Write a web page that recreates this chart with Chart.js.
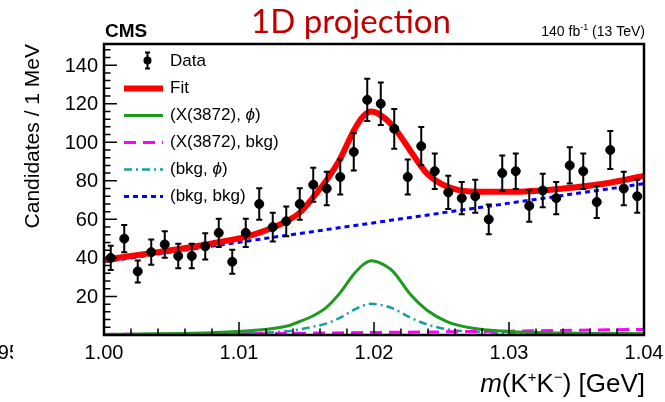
<!DOCTYPE html>
<html>
<head>
<meta charset="utf-8">
<script src="https://cdn.jsdelivr.net/npm/chart.js@4.4.0/dist/chart.umd.min.js"></script>
<style>
  body { margin: 0; background: #fff; }
</style>
</head>
<body>
<canvas id="kkChart" width="665" height="402"></canvas>
<script>
// data: 1 MeV bins of m(K+K-)
const binCenters = [1.0005, 1.0015, 1.0025, 1.0035, 1.0045, 1.0055, 1.0065, 1.0075, 1.0085, 1.0095,
                    1.0105, 1.0115, 1.0125, 1.0135, 1.0145, 1.0155, 1.0165, 1.0175, 1.0185, 1.0195,
                    1.0205, 1.0215, 1.0225, 1.0235, 1.0245, 1.0255, 1.0265, 1.0275, 1.0285, 1.0295,
                    1.0305, 1.0315, 1.0325, 1.0335, 1.0345, 1.0355, 1.0365, 1.0375, 1.0385, 1.0395];
const counts = [40, 50, 33, 43, 47, 41, 41, 46, 53, 38,
                53, 68, 56, 59, 68, 78, 76, 82, 95, 122,
                120, 107, 82, 98, 85, 74, 71, 72, 60, 84,
                85, 67, 75, 71, 88, 85, 69, 96, 76, 72];
const countErrors = [6.3, 7.1, 5.7, 6.6, 6.9, 6.4, 6.4, 6.8, 7.3, 6.2,
                     7.3, 8.2, 7.5, 7.7, 8.2, 8.8, 8.7, 9.1, 9.7, 11.0,
                     11.0, 10.3, 9.1, 9.9, 9.2, 8.6, 8.4, 8.5, 7.7, 9.2,
                     9.2, 8.2, 8.7, 8.4, 9.4, 9.2, 8.3, 9.8, 8.7, 8.5];

// fit curves
const sigX     = [1.000, 1.004, 1.008, 1.011, 1.0135, 1.0145, 1.0155, 1.0165, 1.0175, 1.0185, 1.0192,
                  1.0198, 1.0204, 1.0214, 1.0227, 1.0239, 1.0254, 1.0271, 1.030, 1.034, 1.037, 1.040];
const fitY     = [39, 43, 47.5, 52, 59, 63.5, 71.5, 80.5, 91.5, 106, 113.5,
                  116, 114.5, 108.5, 95.5, 84, 77, 74.5, 74.3, 76, 78.5, 82.5];
const xPhiY    = [0.3, 0.6, 1.2, 2.3, 4.5, 7, 10, 14.5, 22, 31.5, 36.5,
                  38.5, 37.5, 33, 21, 13, 7, 3.8, 1.8, 1.0, 0.8, 0.7];
const bkgPhiY  = [0.1, 0.2, 0.5, 1, 1.9, 2.9, 4.3, 6, 9, 13, 15.3,
                  16.2, 15.7, 13.8, 9, 5.6, 3, 1.8, 1, 0.6, 0.4, 0.3];
const xBkgX    = [1.000, 1.010, 1.020, 1.030, 1.040];
const xBkgY    = [0.3, 0.7, 1.3, 2.0, 2.9];
const bkgBkgX  = [1.000, 1.040];
const bkgBkgY  = [38, 78.5];

const xTicks = [1.00, 1.01, 1.02, 1.03, 1.04];
const yTicks = [20, 40, 60, 80, 100, 120, 140];
const legendLabels = ['Data', 'Fit', '(X(3872), ϕ)', '(X(3872), bkg)', '(bkg, ϕ)', '(bkg, bkg)'];

const FONT = '"Liberation Sans", Arial, sans-serif';

function toXY(xs, ys) {
  return xs.map((x, i) => ({ x: x, y: ys[i] }));
}

const styles = [
  null,
  { color: '#ff0000', width: 6, dash: [] },
  { color: '#1f9a1f', width: 3, dash: [] },
  { color: '#ff00ff', width: 3, dash: [12, 7] },
  { color: '#14a0a0', width: 2.5, dash: [8, 4, 2, 4] },
  { color: '#0000ff', width: 3, dash: [5, 4] }
];

function drawRich(ctx, parts, xRight, y) {
  // parts: [text, font, dy]
  let total = 0;
  parts.forEach(p => { ctx.font = p[1]; total += ctx.measureText(p[0]).width; });
  let x = xRight - total;
  parts.forEach(p => {
    ctx.font = p[1];
    ctx.fillText(p[0], x, y + (p[2] || 0));
    x += ctx.measureText(p[0]).width;
  });
}

const cmsPlugin = {
  id: 'cmsPlugin',
  beforeDraw(chart) {
    const ctx = chart.ctx;
    ctx.save();
    ctx.fillStyle = '#fff';
    ctx.fillRect(0, 0, chart.width, chart.height);
    ctx.restore();
  },
  afterDatasetsDraw(chart) {
    const ctx = chart.ctx;
    const xs = chart.scales.x, ys = chart.scales.y;
    ctx.save();
    ctx.strokeStyle = '#000';
    ctx.lineWidth = 2;
    counts.forEach((n, i) => {
      const px = xs.getPixelForValue(binCenters[i]);
      const lo = ys.getPixelForValue(n - countErrors[i]);
      const hi = ys.getPixelForValue(n + countErrors[i]);
      ctx.beginPath();
      ctx.moveTo(px, lo); ctx.lineTo(px, hi);
      ctx.moveTo(px - 3, lo); ctx.lineTo(px + 3, lo);
      ctx.moveTo(px - 3, hi); ctx.lineTo(px + 3, hi);
      ctx.stroke();
    });
    ctx.restore();
  },
  afterDraw(chart) {
    const ctx = chart.ctx;
    const ca = chart.chartArea;
    const xs = chart.scales.x, ys = chart.scales.y;
    ctx.save();

    // frame
    ctx.strokeStyle = '#000';
    ctx.lineWidth = 2.5;
    ctx.strokeRect(ca.left, ca.top, ca.right - ca.left, ca.bottom - ca.top);

    // inward ticks
    ctx.lineWidth = 1.5;
    ctx.beginPath();
    for (let v = 0; v <= 150; v += 4) {
      const py = ys.getPixelForValue(v);
      const len = v % 20 === 0 ? 13 : 6.5;
      ctx.moveTo(ca.left, py); ctx.lineTo(ca.left + len, py);
    }
    for (let k = 0; k <= 20; k++) {
      const px = xs.getPixelForValue(1.0 + k * 0.002);
      const len = k % 5 === 0 ? 13 : 6.5;
      ctx.moveTo(px, ca.bottom); ctx.lineTo(px, ca.bottom - len);
    }
    ctx.stroke();

    // tick labels
    ctx.fillStyle = '#000';
    ctx.font = '20px ' + FONT;
    ctx.textAlign = 'right';
    ctx.textBaseline = 'middle';
    yTicks.forEach(v => ctx.fillText(String(v), ca.left - 6, ys.getPixelForValue(v) + 1));
    ctx.textAlign = 'center';
    ctx.textBaseline = 'top';
    xTicks.forEach(v => ctx.fillText(v.toFixed(2), xs.getPixelForValue(v), ca.bottom + 8));

    // clipped label from the neighbouring panel
    ctx.save();
    ctx.beginPath(); ctx.rect(0, 330, 13, 40); ctx.clip();
    ctx.textAlign = 'right';
    ctx.fillText('0.95', 20, ca.bottom + 8);
    ctx.restore();

    // axis titles
    ctx.save();
    ctx.translate(33, ca.top);
    ctx.rotate(-Math.PI / 2);
    ctx.textAlign = 'right';
    ctx.textBaseline = 'middle';
    ctx.font = '21px ' + FONT;
    ctx.fillText('Candidates / 1 MeV', 0, 0);
    ctx.restore();

    ctx.textAlign = 'left';
    ctx.textBaseline = 'alphabetic';
    drawRich(ctx, [
      ['m', 'italic 26px ' + FONT],
      ['(K', '26px ' + FONT],
      ['+', '15px ' + FONT, -10],
      ['K', '26px ' + FONT],
      ['\u2212', '15px ' + FONT, -10],
      [') [GeV]', '26px ' + FONT]
    ], 645, 392);

    // header texts
    ctx.font = 'bold 19px ' + FONT;
    ctx.fillText('CMS', ca.left + 1, 37);
    drawRich(ctx, [
      ['140 fb', '14px ' + FONT],
      ['-1', '9px ' + FONT, -6],
      [' (13 TeV)', '14px ' + FONT]
    ], 645, 36);
    ctx.fillStyle = '#c00000';
    ctx.font = '33px Lato, "Open Sans", sans-serif';
    ctx.textAlign = 'center';
    ctx.fillText('1D projection', 351, 33);

    // legend
    ctx.textAlign = 'left';
    ctx.textBaseline = 'middle';
    legendLabels.forEach((label, k) => {
      const y = 61.5 + 27 * k;
      const st = styles[k];
      if (st === null) {
        ctx.fillStyle = '#000';
        ctx.strokeStyle = '#000';
        ctx.lineWidth = 2;
        ctx.setLineDash([]);
        ctx.beginPath();
        ctx.moveTo(147.5, y - 9); ctx.lineTo(147.5, y + 7);
        ctx.moveTo(145, y - 9); ctx.lineTo(150, y - 9);
        ctx.moveTo(145, y + 7); ctx.lineTo(150, y + 7);
        ctx.stroke();
        ctx.beginPath();
        ctx.arc(147.5, y - 1, 4, 0, Math.PI * 2);
        ctx.fill();
      } else {
        ctx.strokeStyle = st.color;
        ctx.lineWidth = st.width;
        ctx.setLineDash(st.dash);
        ctx.beginPath();
        ctx.moveTo(124, y); ctx.lineTo(163, y);
        ctx.stroke();
        ctx.setLineDash([]);
      }
      ctx.fillStyle = '#000';
      let x = 170;
      label.split(/(ϕ)/).forEach(part => {
        if (!part) return;
        ctx.font = (part === 'ϕ' ? 'italic ' : '') + '17px ' + FONT;
        ctx.fillText(part, x, y);
        x += ctx.measureText(part).width;
      });
    });
    ctx.restore();
  }
};

const ctx = document.getElementById('kkChart').getContext('2d');
new Chart(ctx, {
  type: 'line',
  data: {
    datasets: [
      { label: 'Data', type: 'scatter', data: toXY(binCenters, counts),
        pointRadius: 4.5, pointBackgroundColor: '#000', pointBorderColor: '#000', showLine: false },
      { label: 'Fit', data: toXY(sigX, fitY), borderColor: styles[1].color, borderWidth: styles[1].width,
        pointRadius: 0, cubicInterpolationMode: 'monotone' },
      { label: '(X(3872), phi)', data: toXY(sigX, xPhiY), borderColor: styles[2].color, borderWidth: styles[2].width,
        pointRadius: 0, cubicInterpolationMode: 'monotone' },
      { label: '(X(3872), bkg)', data: toXY(xBkgX, xBkgY), borderColor: styles[3].color, borderWidth: styles[3].width,
        borderDash: styles[3].dash, pointRadius: 0, cubicInterpolationMode: 'monotone' },
      { label: '(bkg, phi)', data: toXY(sigX, bkgPhiY), borderColor: styles[4].color, borderWidth: styles[4].width,
        borderDash: styles[4].dash, pointRadius: 0, cubicInterpolationMode: 'monotone' },
      { label: '(bkg, bkg)', data: toXY(bkgBkgX, bkgBkgY), borderColor: styles[5].color, borderWidth: styles[5].width,
        borderDash: styles[5].dash, pointRadius: 0 }
    ]
  },
  options: {
    responsive: false,
    animation: false,
    layout: { padding: { left: 104, right: 21, top: 44, bottom: 67 } },
    plugins: { legend: { display: false }, tooltip: { enabled: false } },
    scales: {
      x: { type: 'linear', min: 1.0, max: 1.04, display: false },
      y: { min: 0, max: 151, display: false }
    }
  },
  plugins: [cmsPlugin]
});
</script>
</body>
</html>
